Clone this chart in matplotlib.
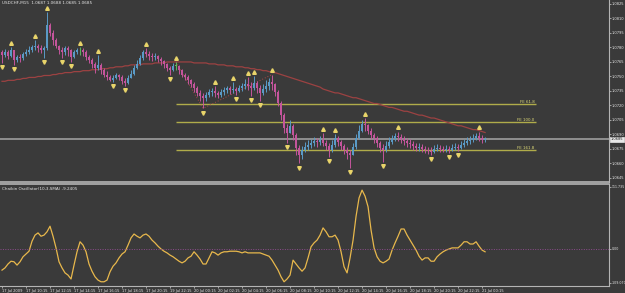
import matplotlib
matplotlib.use("Agg")
import matplotlib.pyplot as plt
import matplotlib.transforms as mtransforms

# ===== data (USDCHF M15) =====
closes = [1.0772, 1.0775, 1.0771, 1.0777, 1.0767, 1.0770, 1.0769, 1.0773, 1.0775, 1.0777,
          1.0780, 1.0782, 1.0779, 1.0777, 1.0779, 1.0803, 1.0795, 1.0788, 1.0782, 1.0777,
          1.0775, 1.0779, 1.0777, 1.0770, 1.0775, 1.0777, 1.0777, 1.0775, 1.0770, 1.0767,
          1.0763, 1.0759, 1.0762, 1.0757, 1.0752, 1.0749, 1.0746, 1.0748, 1.0751, 1.0749,
          1.0745, 1.0743, 1.0748, 1.0753, 1.0759, 1.0763, 1.0769, 1.0775, 1.0773, 1.0771,
          1.0770, 1.0771, 1.0768, 1.0766, 1.0763, 1.0759, 1.0757, 1.0761, 1.0761, 1.0757,
          1.0752, 1.0749, 1.0746, 1.0742, 1.0738, 1.0733, 1.0730, 1.0728, 1.0731, 1.0734,
          1.0735, 1.0733, 1.0731, 1.0734, 1.0736, 1.0738, 1.0736, 1.0737, 1.0735, 1.0738,
          1.0740, 1.0742, 1.0740, 1.0738, 1.0743, 1.0738, 1.0733, 1.0737, 1.0740, 1.0744,
          1.0742, 1.0734, 1.0723, 1.0710, 1.0697, 1.0692, 1.0699, 1.0689, 1.0676, 1.0669,
          1.0674, 1.0677, 1.0679, 1.0681, 1.0683, 1.0682, 1.0684, 1.0681, 1.0678, 1.0674,
          1.0679, 1.0686, 1.0682, 1.0678, 1.0674, 1.0671, 1.0669, 1.0677, 1.0686, 1.0694,
          1.0701, 1.0700, 1.0694, 1.0689, 1.0686, 1.0681, 1.0676, 1.0674, 1.0678, 1.0682,
          1.0685, 1.0688, 1.0687, 1.0685, 1.0683, 1.0681, 1.0680, 1.0678, 1.0676, 1.0677,
          1.0675, 1.0674, 1.0673, 1.0672, 1.0675, 1.0676, 1.0675, 1.0674, 1.0675, 1.0674,
          1.0676, 1.0677, 1.0676, 1.0679, 1.0681, 1.0683, 1.0684, 1.0686, 1.0688, 1.0686,
          1.0684, 1.0685]
highs = [1.0777, 1.0778, 1.0777, 1.0780, 1.0775, 1.0772, 1.0773, 1.0775, 1.0778, 1.0781,
         1.0783, 1.0788, 1.0784, 1.0783, 1.0782, 1.0817, 1.0805, 1.0798, 1.0790, 1.0783,
         1.0780, 1.0782, 1.0781, 1.0778, 1.0777, 1.0779, 1.0780, 1.0779, 1.0777, 1.0772,
         1.0769, 1.0765, 1.0772, 1.0764, 1.0759, 1.0756, 1.0752, 1.0751, 1.0754, 1.0753,
         1.0751, 1.0748, 1.0752, 1.0757, 1.0762, 1.0767, 1.0772, 1.0777, 1.0779, 1.0776,
         1.0774, 1.0774, 1.0772, 1.0770, 1.0767, 1.0764, 1.0761, 1.0764, 1.0765, 1.0762,
         1.0758, 1.0754, 1.0751, 1.0747, 1.0744, 1.0740, 1.0736, 1.0733, 1.0734, 1.0737,
         1.0738, 1.0740, 1.0735, 1.0737, 1.0739, 1.0740, 1.0740, 1.0744, 1.0739, 1.0741,
         1.0743, 1.0747, 1.0749, 1.0744, 1.0750, 1.0745, 1.0741, 1.0742, 1.0746, 1.0748,
         1.0752, 1.0743, 1.0736, 1.0725, 1.0712, 1.0701, 1.0705, 1.0701, 1.0691, 1.0679,
         1.0678, 1.0682, 1.0684, 1.0685, 1.0687, 1.0686, 1.0688, 1.0691, 1.0684, 1.0681,
         1.0684, 1.0690, 1.0688, 1.0684, 1.0680, 1.0677, 1.0674, 1.0681, 1.0690, 1.0700,
         1.0705, 1.0707, 1.0701, 1.0697, 1.0691, 1.0688, 1.0683, 1.0680, 1.0683, 1.0687,
         1.0689, 1.0692, 1.0693, 1.0690, 1.0688, 1.0686, 1.0685, 1.0683, 1.0681, 1.0681,
         1.0680, 1.0678, 1.0677, 1.0677, 1.0679, 1.0680, 1.0679, 1.0678, 1.0679, 1.0678,
         1.0680, 1.0681, 1.0680, 1.0683, 1.0685, 1.0687, 1.0688, 1.0690, 1.0691, 1.0693,
         1.0689, 1.0687]
lows = [1.0764, 1.0770, 1.0768, 1.0770, 1.0762, 1.0765, 1.0765, 1.0767, 1.0771, 1.0773,
        1.0775, 1.0777, 1.0775, 1.0774, 1.0769, 1.0777, 1.0792, 1.0783, 1.0779, 1.0773,
        1.0769, 1.0772, 1.0771, 1.0765, 1.0769, 1.0773, 1.0772, 1.0771, 1.0767, 1.0764,
        1.0759, 1.0754, 1.0757, 1.0753, 1.0749, 1.0746, 1.0745, 1.0744, 1.0747, 1.0746,
        1.0742, 1.0740, 1.0742, 1.0748, 1.0752, 1.0758, 1.0762, 1.0767, 1.0770, 1.0767,
        1.0766, 1.0767, 1.0765, 1.0762, 1.0759, 1.0756, 1.0752, 1.0756, 1.0757, 1.0753,
        1.0749, 1.0746, 1.0742, 1.0739, 1.0734, 1.0730, 1.0725, 1.0717, 1.0725, 1.0729,
        1.0730, 1.0729, 1.0728, 1.0729, 1.0731, 1.0733, 1.0732, 1.0733, 1.0731, 1.0734,
        1.0735, 1.0737, 1.0736, 1.0730, 1.0736, 1.0733, 1.0725, 1.0731, 1.0734, 1.0736,
        1.0736, 1.0730, 1.0719, 1.0705, 1.0691, 1.0681, 1.0691, 1.0684, 1.0669, 1.0660,
        1.0665, 1.0672, 1.0674, 1.0676, 1.0678, 1.0677, 1.0679, 1.0678, 1.0674, 1.0667,
        1.0672, 1.0677, 1.0678, 1.0674, 1.0670, 1.0665, 1.0655, 1.0669, 1.0675, 1.0685,
        1.0693, 1.0694, 1.0690, 1.0685, 1.0681, 1.0677, 1.0672, 1.0662, 1.0672, 1.0676,
        1.0680, 1.0683, 1.0683, 1.0681, 1.0679, 1.0677, 1.0676, 1.0674, 1.0673, 1.0673,
        1.0672, 1.0671, 1.0670, 1.0669, 1.0671, 1.0673, 1.0672, 1.0672, 1.0672, 1.0671,
        1.0673, 1.0674, 1.0673, 1.0675, 1.0677, 1.0679, 1.0680, 1.0682, 1.0684, 1.0683,
        1.0681, 1.0682]
first_open = 1.0775
opens = [first_open] + closes[:-1]

ma = [1.0745, 1.0745, 1.0746, 1.0746, 1.0746, 1.0747, 1.0747, 1.0748, 1.0748, 1.0749,
      1.0749, 1.0749, 1.0750, 1.0750, 1.0751, 1.0751, 1.0751, 1.0752, 1.0752, 1.0753,
      1.0753, 1.0754, 1.0754, 1.0754, 1.0755, 1.0755, 1.0755, 1.0756, 1.0756, 1.0756,
      1.0757, 1.0757, 1.0757, 1.0758, 1.0758, 1.0758, 1.0759, 1.0759, 1.0760, 1.0760,
      1.0760, 1.0761, 1.0761, 1.0762, 1.0762, 1.0762, 1.0762, 1.0763, 1.0763, 1.0763,
      1.0763, 1.0764, 1.0764, 1.0764, 1.0764, 1.0765, 1.0765, 1.0765, 1.0765, 1.0765,
      1.0765, 1.0765, 1.0765, 1.0765, 1.0764, 1.0764, 1.0764, 1.0764, 1.0764, 1.0763,
      1.0763, 1.0763, 1.0762, 1.0762, 1.0762, 1.0761, 1.0761, 1.0761, 1.0760, 1.0760,
      1.0760, 1.0759, 1.0759, 1.0758, 1.0758, 1.0757, 1.0757, 1.0756, 1.0756, 1.0755,
      1.0754, 1.0754, 1.0753, 1.0752, 1.0751, 1.0750, 1.0749, 1.0748, 1.0747, 1.0746,
      1.0745, 1.0744, 1.0743, 1.0742, 1.0741, 1.0740, 1.0739, 1.0737, 1.0736, 1.0735,
      1.0734, 1.0733, 1.0733, 1.0732, 1.0731, 1.0730, 1.0729, 1.0728, 1.0728, 1.0727,
      1.0726, 1.0725, 1.0724, 1.0723, 1.0722, 1.0722, 1.0721, 1.0720, 1.0719, 1.0718,
      1.0718, 1.0717, 1.0716, 1.0715, 1.0714, 1.0714, 1.0713, 1.0712, 1.0711, 1.0710,
      1.0710, 1.0709, 1.0708, 1.0707, 1.0707, 1.0706, 1.0705, 1.0704, 1.0703, 1.0702,
      1.0701, 1.0700, 1.0699, 1.0699, 1.0698, 1.0697, 1.0696, 1.0695, 1.0695, 1.0694,
      1.0693, 1.0692]

fractal_up = [3, 11, 15, 26, 32, 48, 58, 71, 77, 82, 84, 90, 107, 111, 121, 132, 159]
fractal_down = [0, 4, 14, 20, 23, 37, 41, 56, 67, 78, 83, 86, 95, 99, 109, 116, 127,
                143, 149, 152]
zigzag_bars = [58, 67, 90]
zigzag_prices = [1.0765, 1.0717, 1.0752]

fe_labels = ["FE 61.8", "FE 100.0", "FE 161.8"]
fe_prices = [1.0721, 1.0703, 1.0674]
fe_start, fe_end = 58, 178
last_price = 1.0685

chaikin = [-38, -34, -27, -22, -23, -29, -23, -14, -9, -4,
           14, 25, 29, 23, 25, 31, 41, 23, 2, -23,
           -34, -43, -47, -54, -29, -5, 13, 7, -5, -27,
           -40, -50, -56, -59, -59, -56, -41, -31, -25, -16,
           -9, -5, 7, 20, 27, 23, 20, 25, 27, 23,
           16, 11, 5, 0, -4, -7, -11, -14, -18, -22,
           -25, -22, -16, -13, -5, -11, -18, -27, -27, -16,
           -5, -7, -11, -7, -5, -5, -4, -4, -4, -5,
           -7, -5, -7, -7, -7, -7, -7, -9, -11, -13,
           -20, -29, -38, -50, -59, -54, -47, -20, -27, -34,
           -40, -34, -16, 4, 11, 16, 25, 38, 31, 22,
           22, 25, 16, -5, -32, -43, -16, 16, 59, 92,
           106, 95, 76, 34, 2, -14, -22, -25, -22, -18,
           -2, 11, 23, 36, 36, 25, 16, 7, -2, -13,
           -20, -16, -16, -22, -22, -14, -9, -5, -2, 0,
           2, 2, 2, 7, 13, 13, 9, 9, 13, 5,
           -2, -5]

price_ticks = [1.0825, 1.0810, 1.0795, 1.0780, 1.0765, 1.0750, 1.0735,
               1.0720, 1.0705, 1.0690, 1.0675, 1.0660, 1.0645]
osc_tick_vals = [111.6, 0, -61.0]
osc_tick_labels = ["111.735", "0.00", "-109.070"]
time_bars = list(range(0, 161, 8))
time_labels = ["17 Jul 2009", "17 Jul 10:15", "17 Jul 12:15", "17 Jul 14:15",
               "17 Jul 16:15", "17 Jul 18:15", "17 Jul 20:15", "19 Jul 22:15",
               "20 Jul 00:15", "20 Jul 02:15", "20 Jul 04:15", "20 Jul 06:15",
               "20 Jul 08:15", "20 Jul 10:15", "20 Jul 12:15", "20 Jul 14:15",
               "20 Jul 16:15", "20 Jul 18:15", "20 Jul 20:15", "20 Jul 22:15",
               "21 Jul 00:15"]

# ===== colours =====
bg = "#3a3a3a"
axis_col = "#b4b4b4"
txt_col = "#e6e6e6"
up_col = "#5a9ac6"
dn_col = "#c4559c"
doji_col = "#5cb85c"
frac_col = "#e8d46a"
fe_col = "#b0ac4a"

fig = plt.figure(figsize=(6.25, 2.93), dpi=100, facecolor=bg)
W, H = 625, 293
ax = fig.add_axes([0, 1 - 182 / H, 609 / W, 182 / H], facecolor=bg)
ax2 = fig.add_axes([0, 1 - 286 / H, 609 / W, 102 / H], facecolor=bg, sharex=ax)

n = len(closes)
idx = list(range(n))

# ===== candles =====
for i in idx:
    o, c = opens[i], closes[i]
    if c > o:
        col = up_col
    elif c < o:
        col = dn_col
    else:
        col = doji_col
    ax.vlines(i, lows[i], highs[i], color=col, lw=0.7, zorder=3)
    lo, hi = min(o, c), max(o, c)
    ax.bar(i, max(hi - lo, 0.00004), bottom=lo, width=0.8, color=col, lw=0, zorder=3)

# moving average + zigzag
ax.plot(idx, ma, color="#9c4242", lw=0.9, zorder=2)
ax.plot(zigzag_bars, zigzag_prices, color="#b04848", lw=0.7, ls=(0, (1, 2)), zorder=2)

# fractals
up_tr = mtransforms.offset_copy(ax.transData, fig=fig, y=3.0, units="points")
dn_tr = mtransforms.offset_copy(ax.transData, fig=fig, y=-3.0, units="points")
ax.plot(fractal_up, [highs[i] for i in fractal_up], ls="none", marker="^", ms=2.6,
        color=frac_col, transform=up_tr, zorder=4)
ax.plot(fractal_down, [lows[i] for i in fractal_down], ls="none", marker="v", ms=2.6,
        color=frac_col, transform=dn_tr, zorder=4)

# fibonacci expansion lines
for lab, p in zip(fe_labels, fe_prices):
    ax.hlines(p, fe_start, fe_end, color=fe_col, lw=1.0, zorder=1)
    ax.text(fe_end - 0.5, p + 0.00004, lab, color="#e0dc78", fontsize=2.9,
            ha="right", va="bottom", zorder=5)

# last price line
ax.axhline(last_price, color="#909090", lw=1.4, zorder=1)

ax.set_xlim(-0.67, 202.3)
ax.set_ylim(1.08291 - 182 * 0.00010345, 1.08291)
ax.yaxis.tick_right()
ax.set_yticks(price_ticks)
ax.set_yticklabels([f"{p:.4f}" for p in price_ticks])
ax.tick_params(axis="y", colors=axis_col, labelcolor=txt_col, labelsize=2.6,
               length=1.5, width=0.6, pad=0.6)
ax.tick_params(axis="x", bottom=False, labelbottom=False)
ax.text(1.003, last_price, f"{last_price:.4f}", transform=ax.get_yaxis_transform(),
        fontsize=2.6, color="#202020", va="center", ha="left",
        bbox=dict(boxstyle="square,pad=0.12", fc="#e8e8e8", ec="#e8e8e8", lw=0.5),
        clip_on=False)
for s in ["top", "left"]:
    ax.spines[s].set_visible(False)
ax.spines["right"].set_color(axis_col)
ax.spines["bottom"].set_color(axis_col)
ax.spines["bottom"].set_linewidth(1.2)

ax.text(0.003, 0.995, "USDCHF,M15  1.0687 1.0688 1.0685 1.0685", transform=ax.transAxes,
        fontsize=3.0, color=txt_col, va="top", ha="left")

# ===== chaikin oscillator =====
ax2.plot(idx, chaikin, color="#e8b84c", lw=0.9)
ax2.axhline(0, color="#8c4c8c", lw=0.7, ls=(0, (1, 1.5)))
ax2.set_ylim(-66.6, 117)
ax2.yaxis.tick_right()
ax2.set_yticks(osc_tick_vals)
ax2.set_yticklabels(osc_tick_labels)
ax2.tick_params(axis="y", colors=axis_col, labelcolor=txt_col, labelsize=2.3,
                length=1.5, width=0.6, pad=0.5)
ax2.set_xticks(time_bars)
ax2.set_xticklabels(time_labels, ha="left")
ax2.tick_params(axis="x", colors=axis_col, labelcolor=txt_col, labelsize=2.6,
                length=1.5, width=0.6, pad=0.5)
ax2.spines["left"].set_visible(False)
for s in ["top", "right", "bottom"]:
    ax2.spines[s].set_color(axis_col)
ax2.spines["top"].set_linewidth(1.2)
ax2.text(0.003, 0.97, "Chaikin Oscillator(10,3,SMA) -9.2405", transform=ax2.transAxes,
         fontsize=3.0, color=txt_col, va="top", ha="left")

fig.savefig("out.png", dpi=100, facecolor=bg)
